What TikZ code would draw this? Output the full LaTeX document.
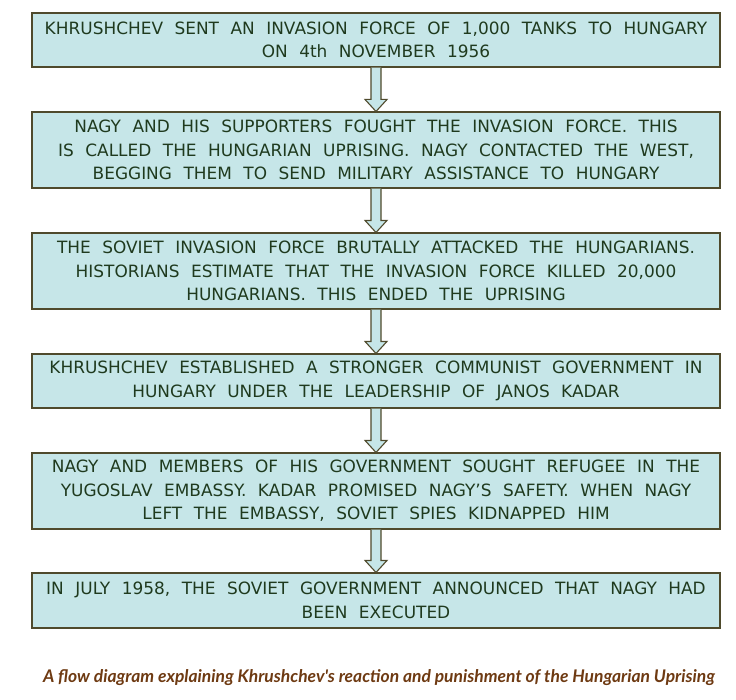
\documentclass[tikz,border=0pt]{standalone}
\usepackage{fontspec}
\setmainfont{DejaVu Sans}
\newfontfamily\capfont{Lato}
\usetikzlibrary{calc}
\definecolor{boxfill}{HTML}{C6E6E8}
\definecolor{boxline}{HTML}{4F4A2C}
\definecolor{txt}{HTML}{1F3A1E}
\definecolor{captxt}{HTML}{6E3A12}
\newskip\myboxspace
\myboxspace=11.5bp plus 2bp minus 1bp
\newcommand\myboxfont{\fontsize{17}{23.5}\selectfont\spaceskip\myboxspace}
\newcommand\fatarrow[2]{%
  \draw[arr] ($(#1.south)+(-5,0)$) -- ($(#2.north)+(-5,-12)$) -- ++(-6,0)
    -- (#2.north) -- ++(11,-12) -- ++(-6,0) -- ($(#1.south)+(5,0)$);}
\begin{document}
\begin{tikzpicture}[x=1bp,y=-1bp,
  box/.style={draw=boxline, fill=boxfill, line width=1.1bp, inner sep=0pt,
    align=center, text=txt, minimum width=688bp, font=\myboxfont},
  arr/.style={draw=boxline, fill=boxfill, line width=1.1bp, line join=miter}]
\useasboundingbox (0,0) rectangle (736,700);
\node[box, minimum height=54bp] (b1) at (376,40)
  {KHRUSHCHEV SENT AN INVASION FORCE OF 1,000 TANKS TO HUNGARY\\ON 4th NOVEMBER 1956};
\node[box, minimum height=76bp] (b2) at (376,150)
  {NAGY AND HIS SUPPORTERS FOUGHT THE INVASION FORCE. THIS\\IS CALLED THE HUNGARIAN UPRISING. NAGY CONTACTED THE WEST,\\BEGGING THEM TO SEND MILITARY ASSISTANCE TO HUNGARY};
\node[box, minimum height=76bp] (b3) at (376,271)
  {THE SOVIET INVASION FORCE BRUTALLY ATTACKED THE HUNGARIANS.\\HISTORIANS ESTIMATE THAT THE INVASION FORCE KILLED 20,000\\HUNGARIANS. THIS ENDED THE UPRISING};
\node[box, minimum height=54bp] (b4) at (376,381)
  {KHRUSHCHEV ESTABLISHED A STRONGER COMMUNIST GOVERNMENT IN\\HUNGARY UNDER THE LEADERSHIP OF JANOS KADAR};
\node[box, minimum height=76bp] (b5) at (376,491)
  {NAGY AND MEMBERS OF HIS GOVERNMENT SOUGHT REFUGEE IN THE\\YUGOSLAV EMBASSY. KADAR PROMISED NAGY’S SAFETY. WHEN NAGY\\LEFT THE EMBASSY, SOVIET SPIES KIDNAPPED HIM};
\node[box, minimum height=55bp] (b6) at (376,600.5)
  {IN JULY 1958, THE SOVIET GOVERNMENT ANNOUNCED THAT NAGY HAD\\BEEN EXECUTED};
\fatarrow{b1}{b2}
\fatarrow{b2}{b3}
\fatarrow{b3}{b4}
\fatarrow{b4}{b5}
\fatarrow{b5}{b6}
\node[font=\capfont\bfseries\itshape\fontsize{17.5}{20}\selectfont, text=captxt, inner sep=0pt]
  (cap) at (379,678) {A flow diagram explaining Khrushchev's reaction and punishment of the Hungarian Uprising};
\end{tikzpicture}
\end{document}
